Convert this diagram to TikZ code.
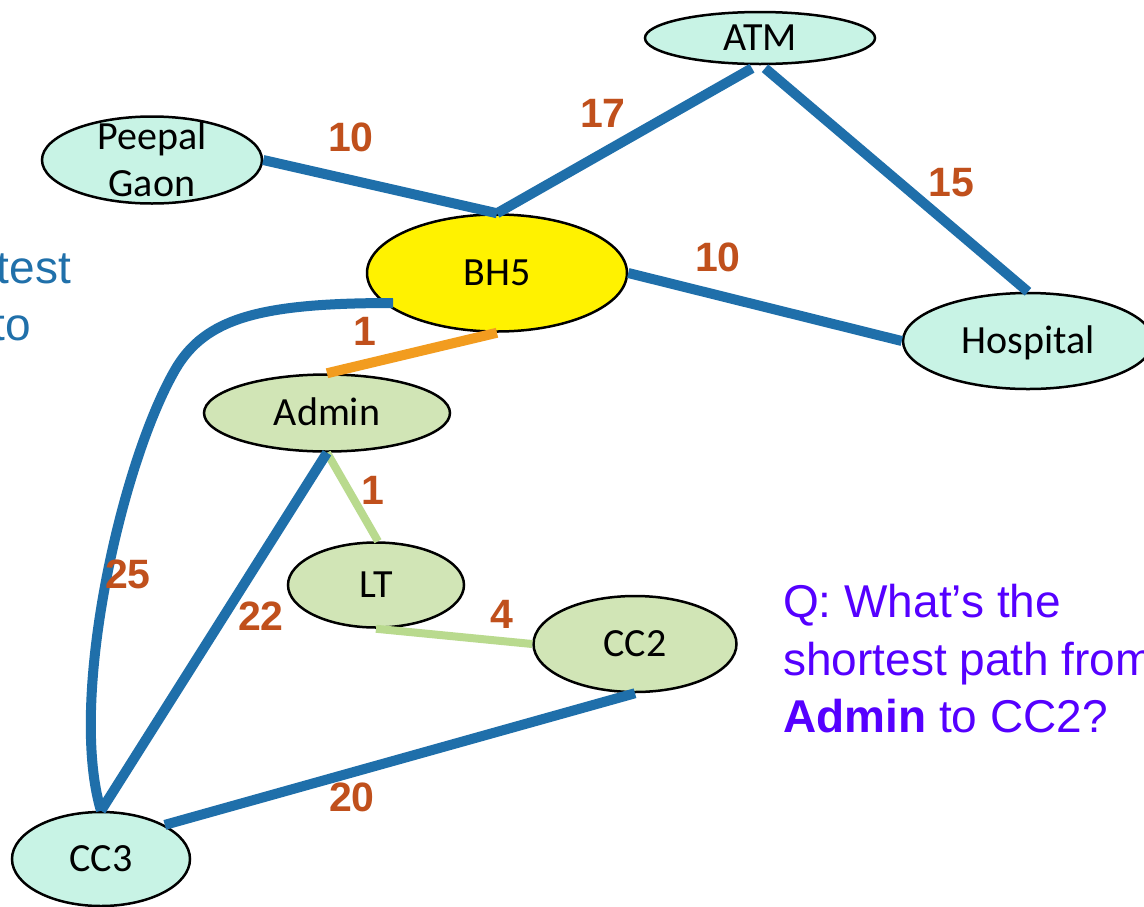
\documentclass[tikz,border=0pt]{standalone}
\usepackage{fontspec}
\usetikzlibrary{shapes.geometric,calc}
\newfontfamily\nodefont{Carlito}
\newfontfamily\arialfont{Liberation Sans}
\definecolor{edgeblue}{HTML}{1F6FAA}
\definecolor{edgeorange}{HTML}{F29C1F}
\definecolor{edgegreen}{HTML}{B9DA8E}
\definecolor{wlabel}{HTML}{C0501C}
\definecolor{mint}{HTML}{C8F3E5}
\definecolor{sage}{HTML}{D1E5B6}
\definecolor{qpurple}{HTML}{5500FF}
\definecolor{leftblue}{HTML}{2070AA}
\tikzset{
  place/.style={ellipse, draw=black, line width=2.5pt, inner sep=0pt,
    font=\nodefont\fontsize{40}{47}\selectfont, text height=25pt, text depth=0pt},
  mintplace/.style={place, fill=mint},
  sageplace/.style={place, fill=sage},
  blueedge/.style={draw=edgeblue, line width=10pt},
  orangeedge/.style={draw=edgeorange, line width=10pt},
  greenedge/.style={draw=edgegreen, line width=8pt},
  weight/.style={text=wlabel, font=\arialfont\bfseries\fontsize{41}{48}\selectfont,
    inner sep=0pt, text height=29pt, text depth=0pt},
  qtext/.style={text=qpurple, font=\arialfont\fontsize{46}{58}\selectfont, inner sep=0pt, anchor=base west},
  lefttext/.style={text=leftblue, font=\arialfont\fontsize{46}{58}\selectfont, inner sep=0pt, anchor=base east}
}
\begin{document}
\begin{tikzpicture}[x=1pt,y=-1pt]
\useasboundingbox (0,0) rectangle (1144,906);
\clip (0,0) rectangle (1144,906);
\fill[white] (0,0) rectangle (1144,906);

% nodes
\node[mintplace, minimum width=230pt, minimum height=52pt] (ATM) at (760,38) {ATM};
\node[mintplace, minimum width=220pt, minimum height=87pt, align=center,
      text height=72pt, text depth=0pt, inner ysep=-8pt] (PG) at (152,160) {Peepal\\Gaon};
\node[place, fill=yellow, minimum width=260pt, minimum height=117pt] (BH5) at (497,273) {BH5};
\node[mintplace, minimum width=250pt, minimum height=96pt] (HOS) at (1028,341) {Hospital};
\node[sageplace, minimum width=246pt, minimum height=77pt] (ADM) at (327,413) {Admin};
\node[sageplace, minimum width=176pt, minimum height=85pt] (LT) at (376,585) {LT};
\node[sageplace, minimum width=203pt, minimum height=96pt] (CC2) at (635,644) {CC2};
\node[mintplace, minimum width=178pt, minimum height=94pt] (CC3) at (101,859) {CC3};

% edges
\draw[blueedge] ($(ATM.south)+(-8,3)$) -- (BH5.north);
\draw[blueedge] ($(ATM.south)+(5,3)$) -- (HOS.north);
\draw[blueedge] (PG.east) -- (BH5.north);
\draw[blueedge] (BH5.east) -- (HOS.west);
\draw[orangeedge] (BH5.south) -- (ADM.north);
\draw[blueedge] ($(BH5.center)+(-104,30)$) .. controls (260,303) and (205,318) .. (175,370)
      .. controls (121,464) and (68,700) .. (CC3.north);
\draw[greenedge] (ADM.south) -- ($(LT.north)+(2,0)$);
\draw[blueedge] (ADM.south) -- (CC3.north);
\draw[greenedge] (LT.south) -- (CC2.west);
\draw[blueedge] (CC2.south) -- (CC3.north east);

% weights
\node[weight] (w1) at (351,137) {10};
\node[weight] (w2) at (603,113) {17};
\node[weight] (w3) at (951,182) {15};
\node[weight] (w4) at (718,257) {10};
\node[weight] (w5) at (365,331) {1};
\node[weight] (w6) at (373,490) {1};
\node[weight] (w7) at (128,574) {25};
\node[weight] (w8) at (261,616) {22};
\node[weight] (w9) at (502,614) {4};
\node[weight] (w10) at (352,797) {20};

% texts
\node[lefttext] (lt1) at (71,283) {test};
\node[lefttext] (lt2) at (31,340) {to};
\node[qtext] (q1) at (783,617) {Q: What’s the};
\node[qtext] (q2) at (783,675) {shortest path from};
\node[qtext] (q3) at (783,732) {\bfseries Admin\mdseries{} to CC2?};
\end{tikzpicture}
\end{document}
